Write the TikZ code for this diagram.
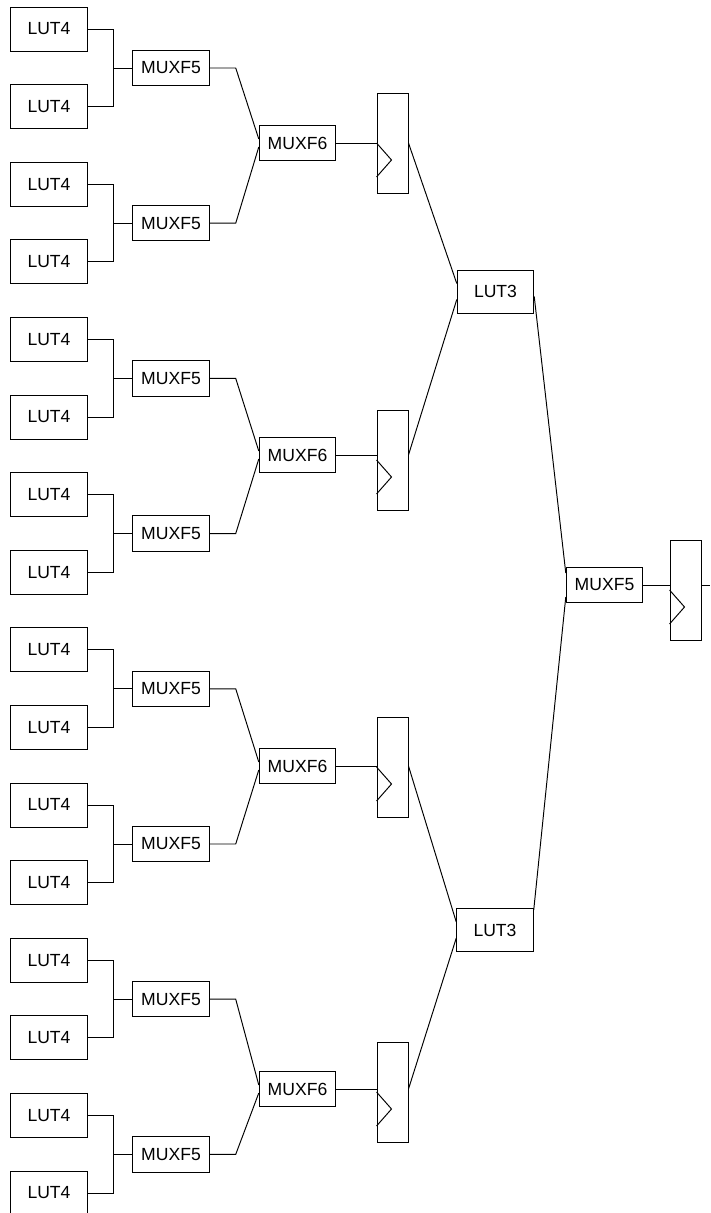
\documentclass[tikz,border=0pt]{standalone}
\usepackage{fontspec}
\setmainfont{Liberation Sans}
\usetikzlibrary{calc}

\begin{document}
\begin{tikzpicture}[x=0.02cm, y=-0.02cm, line width=0.55pt, font=\fontsize{10}{12}\selectfont,
		blk/.style={draw, inner sep=0pt, minimum width=1.53cm},
		lutfour/.style={blk, minimum height=0.88cm},
		muxbox/.style={blk, minimum height=0.71cm},
		lutthree/.style={blk, minimum height=0.86cm},
		ffbox/.style={draw, inner sep=0pt, minimum width=0.62cm, minimum height=2cm}]
		\useasboundingbox (0,0) rectangle (710,1213);
		% first column: sixteen LUT4 feeding eight MUXF5
		\foreach \i in {0,...,15}
			\node[lutfour] (L\i) at (49,{29+77.6*\i}) {LUT4};
		\foreach \j in {0,...,7} {
			\pgfmathtruncatemacro{\a}{2*\j}\pgfmathtruncatemacro{\b}{2*\j+1}
			\node[muxbox] (M\j) at (171,{68+155.2*\j}) {MUXF5};
			\draw (L\a.east) -- ++(26,0) |- (M\j.west);
			\draw (L\b.east) -- ++(26,0) |- (M\j.west);
		}
		% MUXF6 stage, each one registered
		\foreach \k/\ym/\yf in {0/143/143, 1/455/460, 2/766/767, 3/1089/1092} {
			\pgfmathtruncatemacro{\a}{2*\k}\pgfmathtruncatemacro{\b}{2*\k+1}
			\node[muxbox] (S\k) at (297.5,\ym) {MUXF6};
			\node[ffbox] (F\k) at (392.5,\yf) {};
			\draw (M\a.east) -- ++(26,0) -- ($(S\k.west)+(0,-4)$);
			\draw (M\b.east) -- ++(26,0) -- ($(S\k.west)+(0,4)$);
			\draw (S\k.east) -- (S\k.east -| F\k.west);
			\draw (F\k.west) -- ++(15,17) -- ++(-15,17);
		}
		% LUT3 pair
		\node[lutthree] (T0) at (495.5,291.5) {LUT3};
		\node[lutthree] (T1) at (495,930) {LUT3};
		\draw (F0.east |- S0.east) -- ($(T0.west)+(0,-8)$);
		\draw (F1.east |- S1.east) -- ($(T0.west)+(0,8)$);
		\draw (F2.east |- S2.east) -- ($(T1.west)+(0,-8)$);
		\draw (F3.east |- S3.east) -- ($(T1.west)+(0,8)$);
		% last MUXF5 and output register
		\node[muxbox] (X) at (604.5,585) {MUXF5};
		\node[ffbox] (Q) at (685.5,590) {};
		\draw ($(T0.east)+(0,5)$) -- ($(X.west)+(0,-12)$);
		\draw ($(T1.north east)+(0,2)$) -- ($(X.west)+(0,12)$);
		\draw (X.east) -- (X.east -| Q.west);
		\draw (Q.west) -- ++(15,17) -- ++(-15,17);
		\coordinate (out) at (710,585);
		\draw (Q.east |- X.east) -- (out);
	\end{tikzpicture}
\end{document}
